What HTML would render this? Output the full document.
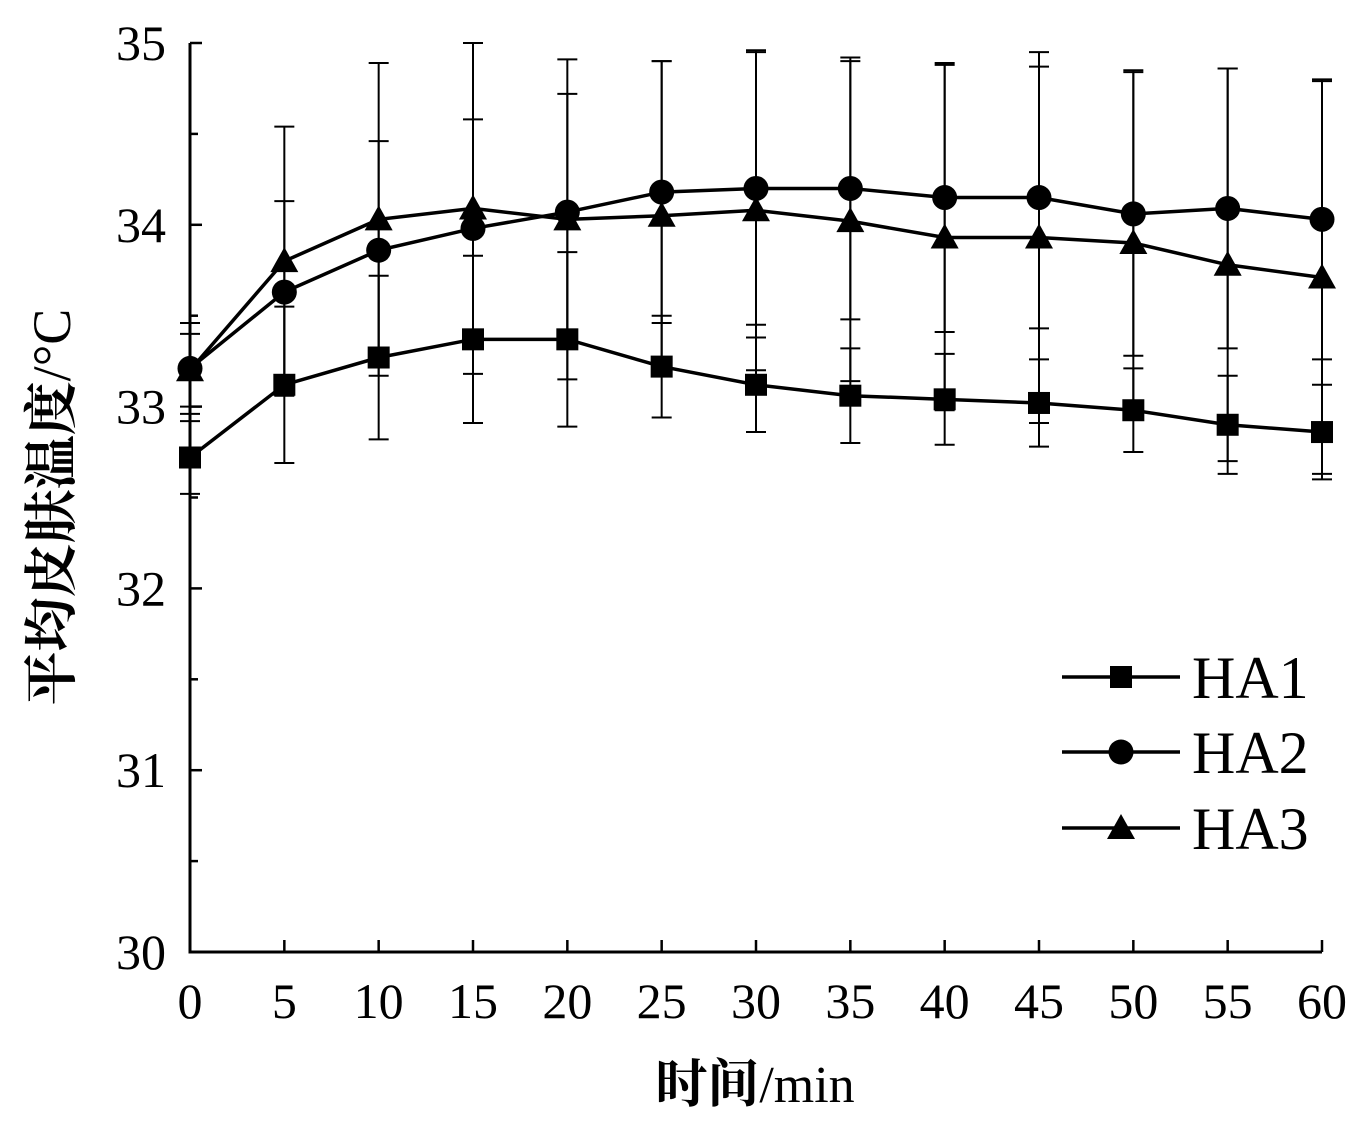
<!DOCTYPE html>
<html><head><meta charset="utf-8"><style>
html,body{margin:0;padding:0;background:#fff;}
svg{display:block;}
text{font-family:"Liberation Serif","Noto Serif CJK SC",serif;fill:#000;}
</style></head><body>
<svg id="s" width="1370" height="1134" viewBox="0 0 1370 1134" xmlns="http://www.w3.org/2000/svg">
<g id="g"></g>
<text x="755" y="1102" font-size="52" text-anchor="middle"><tspan font-weight="bold">时间</tspan>/min</text>
<text transform="translate(70,507) rotate(-90)" font-size="54" text-anchor="middle"><tspan font-weight="bold">平均皮肤温度</tspan>/°C</text>
</svg>
<script>
const g=document.getElementById('g');const NS='http://www.w3.org/2000/svg';
function el(t,a){const e=document.createElementNS(NS,t);for(const k in a)e.setAttribute(k,a[k]);g.appendChild(e);return e;}
const X=v=>190+v*(1132/60), Y=v=>952-(v-30)*181.8;
el('path',{d:'M190,43 L190,952 L1322,952',fill:'none',stroke:'#000','stroke-width':3});
for(let v=30;v<=35;v+=0.5){const y=Y(v);el('line',{x1:190,x2:v%1==0?202:198,y1:y,y2:y,stroke:'#000','stroke-width':2.5});
 if(v%1==0){const t=el('text',{x:166,y:y+17,'font-size':50,'text-anchor':'end'});t.textContent=v;}}
for(let m=0;m<=60;m+=5){const x=X(m);if(m>0)el('line',{x1:x,x2:x,y1:952,y2:940,stroke:'#000','stroke-width':2.5});
 const t=el('text',{x:x,y:1018,'font-size':50,'text-anchor':'middle'});t.textContent=m;}
const mins=[0,5,10,15,20,25,30,35,40,45,50,55,60];
const d1=[32.72,33.12,33.27,33.37,33.37,33.22,33.12,33.06,33.04,33.02,32.98,32.90,32.86];
const e1=[0.2,0.43,0.45,0.46,0.48,0.28,0.26,0.26,0.25,0.24,0.23,0.27,0.26];
const d2=[33.21,33.63,33.86,33.98,34.07,34.18,34.20,34.20,34.15,34.15,34.06,34.09,34.03];
const e2=[0.25,0.5,0.6,0.6,0.65,0.72,0.75,0.72,0.74,0.72,0.78,0.77,0.77];
const d3=[33.20,33.80,34.03,34.09,34.03,34.05,34.08,34.02,33.93,33.93,33.90,33.78,33.71];
const e3=[0.2,0.74,0.86,0.91,0.88,0.85,0.88,0.88,0.95,1.02,0.95,1.08,1.08];
function series(d,e,mk){
 mins.forEach((m,i)=>{const x=X(m);el('line',{x1:x,x2:x,y1:Y(d[i]+e[i]),y2:Y(d[i]-e[i]),stroke:'#000','stroke-width':2});
  [d[i]+e[i],d[i]-e[i]].forEach(v=>el('line',{x1:x-10,x2:x+10,y1:Y(v),y2:Y(v),stroke:'#000','stroke-width':2}));});
 el('polyline',{points:mins.map((m,i)=>X(m)+','+Y(d[i])).join(' '),fill:'none',stroke:'#000','stroke-width':3.5});
 mins.forEach((m,i)=>marker(mk,X(m),Y(d[i])));
}
function marker(mk,x,y){
 if(mk==0)el('rect',{x:x-11,y:y-11,width:22,height:22,fill:'#000'});
 else if(mk==1)el('circle',{cx:x,cy:y,r:12.5,fill:'#000'});
 else el('polygon',{points:`${x},${y-14} ${x-14},${y+11} ${x+14},${y+11}`,fill:'#000'});
}
series(d1,e1,0);series(d2,e2,1);series(d3,e3,2);
[677,752,828].forEach((y,i)=>{el('line',{x1:1062,x2:1180,y1:y,y2:y,stroke:'#000','stroke-width':3.5});marker(i,1121,y);
 const t=el('text',{x:1192,y:y+21,'font-size':60});t.textContent='HA'+(i+1);});
</script>
</body></html>
